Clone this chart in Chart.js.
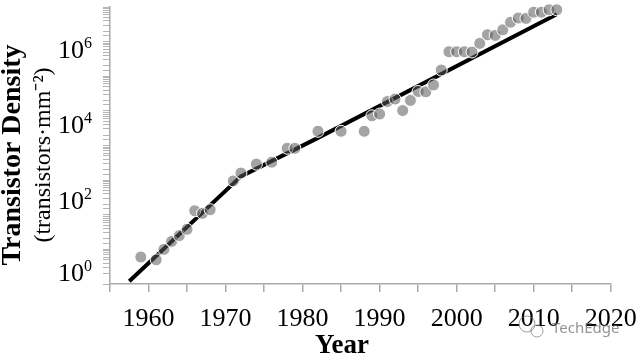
<!DOCTYPE html>
<html>
<head>
<meta charset="utf-8">
<title>Transistor Density</title>
<script src="https://cdn.jsdelivr.net/npm/chart.js@4"></script>
<style>
  body { margin: 0; background: #fff; }
  canvas { display: block; }
</style>
</head>
<body>
<canvas id="densityChart" width="640" height="355"></canvas>
<script>
const years = [1959, 1961, 1962, 1963, 1964, 1965, 1966, 1967, 1968, 1971, 1972, 1974, 1976, 1978, 1979, 1982, 1985, 1988, 1989, 1990, 1991, 1992, 1993, 1994, 1995, 1996, 1997, 1998, 1999, 2000, 2001, 2002, 2003, 2004, 2005, 2006, 2007, 2008, 2009, 2010, 2011, 2012, 2013];
const density = [0.6, 0.5, 1, 1.7, 2.5, 3.8, 13, 11, 14, 95, 160, 290, 330, 830, 830, 2570, 2570, 2570, 7200, 8100, 18600, 21900, 10200, 20000, 36300, 35500, 56000, 151000, 510000, 510000, 510000, 500000, 890000, 1580000, 1510000, 2190000, 3630000, 4790000, 4680000, 7080000, 7080000, 8300000, 8300000];

const trendYears = [1957.5, 1972, 1982, 2013];
const trendDensity = [0.12, 128, 1660, 6200000];

const xTickLabels = [1960, 1970, 1980, 1990, 2000, 2010, 2020];
const yTickValues = [1e6, 1e4, 1e2, 1e0];
const yTickLabels = ['10', '10', '10', '10'];
const yTickPowers = ['6', '4', '2', '0'];
const yLabelShift = [7, 13, 20, 23]; // labels sit below their ticks in the original

const SERIF = '"Liberation Serif", serif';

// axis titles, y labels and the watermark don't line up with anything chart.js places
const textPlugin = {
  id: 'textPlugin',
  afterDraw(chart) {
    const ctx = chart.ctx;
    const y = chart.scales.y;
    ctx.save();
    ctx.fillStyle = '#000';
    ctx.textBaseline = 'alphabetic';

    yTickValues.forEach((v, i) => {
      const py = y.getPixelForValue(v) + yLabelShift[i] + 9;
      ctx.font = '26px ' + SERIF;
      ctx.textAlign = 'left';
      ctx.fillText(yTickLabels[i], 58, py);
      ctx.font = '16px ' + SERIF;
      ctx.fillText(yTickPowers[i], 84, py - 10);
    });

    ctx.font = 'bold 27px ' + SERIF;
    ctx.textAlign = 'center';
    ctx.fillText('Year', 342, 353);

    ctx.translate(20, 155);
    ctx.rotate(-Math.PI / 2);
    ctx.font = 'bold 28px ' + SERIF;
    ctx.fillText('Transistor Density', 0, 0);
    ctx.font = '24px ' + SERIF;
    ctx.fillText('(transistors\u00b7mm\u207b\u00b2)', 0, 30);
    ctx.restore();

    // watermark
    ctx.save();
    ctx.strokeStyle = 'rgba(120,120,120,0.7)';
    ctx.lineWidth = 1;
    ctx.beginPath();
    ctx.arc(527, 324, 8, 0, Math.PI * 2);
    ctx.stroke();
    ctx.beginPath();
    ctx.arc(537, 331, 6, 0, Math.PI * 2);
    ctx.stroke();
    ctx.font = '15px "Noto Sans", sans-serif';
    ctx.fillStyle = 'rgba(110,110,110,0.75)';
    ctx.textAlign = 'left';
    ctx.fillText('TechEdge', 552, 333);
    ctx.restore();
  }
};

const ctx = document.getElementById('densityChart').getContext('2d');
new Chart(ctx, {
  type: 'scatter',
  data: {
    datasets: [
      {
        label: 'Data',
        data: years.map((yr, i) => ({ x: yr, y: density[i] })),
        backgroundColor: 'rgba(90,90,90,0.55)',
        borderColor: '#fff',
        borderWidth: 1,
        pointRadius: 6,
        clip: false,
        order: 1
      },
      {
        type: 'line',
        label: 'Trend',
        data: trendYears.map((yr, i) => ({ x: yr, y: trendDensity[i] })),
        borderColor: '#000',
        borderWidth: 4,
        pointRadius: 0,
        tension: 0,
        clip: false,
        order: 2
      }
    ]
  },
  options: {
    responsive: false,
    animation: false,
    layout: { padding: { top: 4.5, right: 29.3, left: 0, bottom: 0 } },
    plugins: { legend: { display: false }, tooltip: { enabled: false } },
    scales: {
      x: {
        type: 'linear',
        min: 1955,
        max: 2020,
        afterFit(scale) {
          scale.height = 71;
          scale.paddingRight = 0; // keep 2020 where the original has it
          scale.paddingLeft = 0;
        },
        grid: { drawOnChartArea: false, tickLength: 8, tickColor: '#aaa', lineWidth: 1.5 },
        border: { color: '#aaa', width: 1.5 },
        ticks: {
          stepSize: 5,
          autoSkip: false,
          maxRotation: 0,
          padding: 12,
          color: '#000',
          font: { family: 'Liberation Serif', size: 26 },
          callback: v => xTickLabels.includes(v) ? String(v) : ''
        }
      },
      y: {
        type: 'logarithmic',
        min: 0.1,
        max: 1e7,
        afterFit(scale) {
          scale.width = 110;
          scale.paddingTop = 0;
          scale.paddingBottom = 0;
        },
        grid: { drawOnChartArea: false, tickLength: 7, tickColor: '#b5b5b5', lineWidth: 1 },
        border: { color: '#aaa', width: 1.5 },
        ticks: { display: false, autoSkip: false }
      }
    }
  },
  plugins: [textPlugin]
});
</script>
</body>
</html>
